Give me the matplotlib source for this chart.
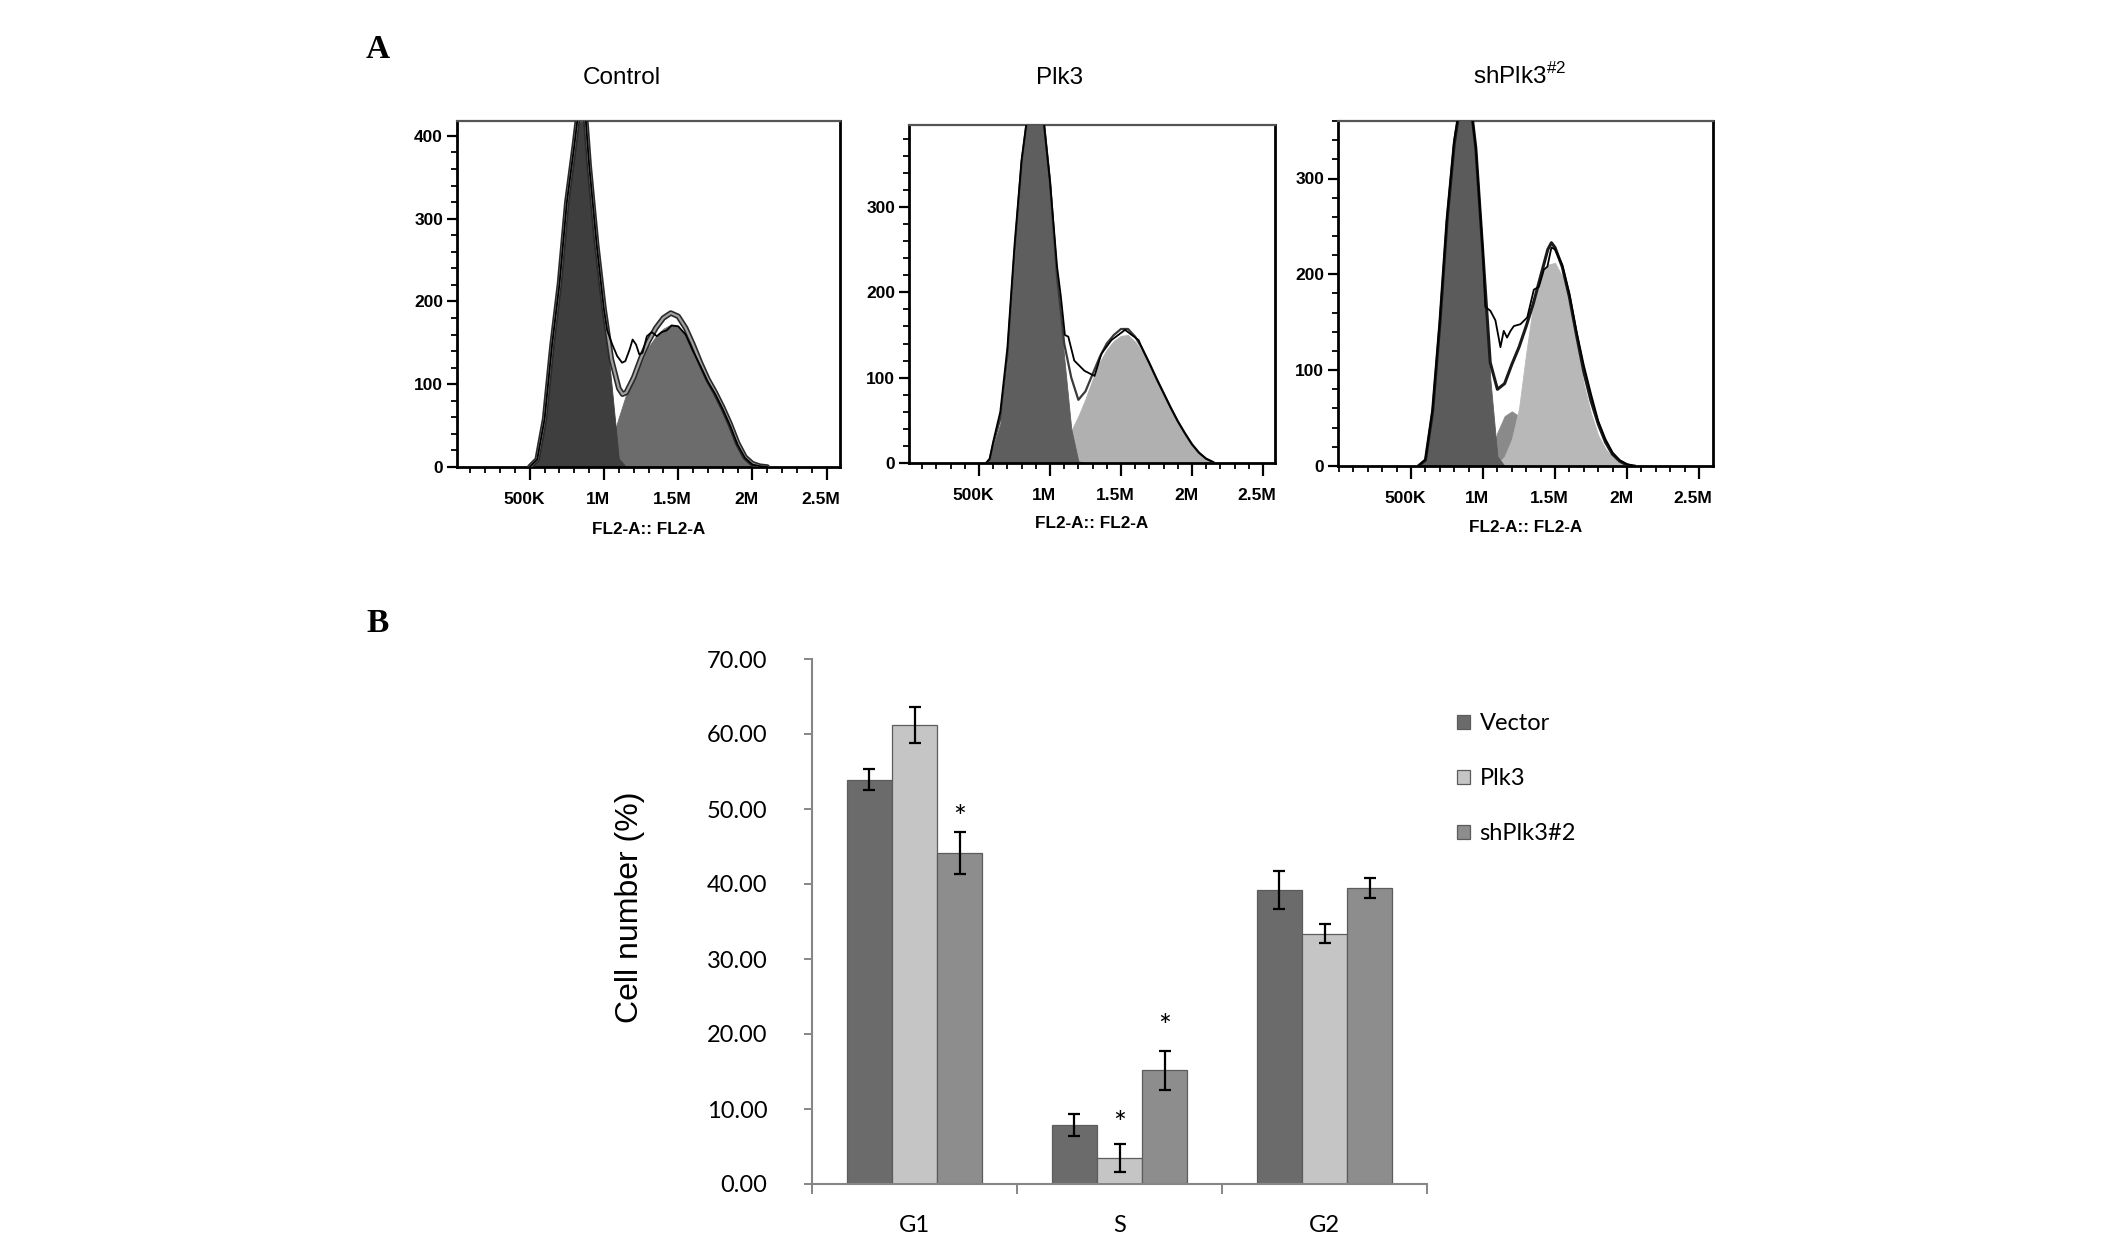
import matplotlib
matplotlib.use('Agg')
import matplotlib.pyplot as plt
from matplotlib.ticker import MultipleLocator, FixedLocator, NullFormatter
from matplotlib.transforms import ScaledTranslation, offset_copy
import numpy as np

plt.rcParams['mathtext.fontset'] = 'custom'
plt.rcParams['mathtext.rm'] = 'Liberation Sans'

# ---------------- DATA ----------------
# Panel A: flow cytometry histograms (x in thousands of FL2-A units, y = counts)
x_tick_vals = [500, 1000, 1500, 2000, 2500]
x_tick_labels = ['500K', '1M', '1.5M', '2M', '2.5M']
panel_titles = ['Control', 'Plk3', r'shPlk3$^{\mathregular{\#2}}$']
x_axis_label = 'FL2-A:: FL2-A'

# Control
c_g1_x = [500, 550, 600, 650, 700, 750, 800, 825, 850, 875, 900, 950, 1000, 1050, 1100, 1150]
c_g1_y = [0, 9, 58, 147, 221, 320, 388, 425, 445, 425, 365, 270, 190, 101, 10, 0]
c_g2_x = [950, 1000, 1050, 1100, 1150, 1200, 1250, 1300, 1350, 1400, 1450, 1500, 1550, 1600,
          1650, 1700, 1750, 1800, 1850, 1900, 1950, 2000, 2050]
c_g2_y = [0, 8, 30, 60, 88, 108, 125, 145, 158, 167, 172, 170, 160, 140, 122, 103, 88, 70, 50, 27, 11, 3, 0]
c_fit_x = [500, 550, 600, 650, 700, 750, 800, 825, 850, 875, 900, 950, 1000, 1050, 1100, 1125, 1150,
           1200, 1250, 1300, 1350, 1400, 1450, 1500, 1550, 1600, 1650, 1700, 1750, 1800, 1850, 1900,
           1950, 2000, 2050, 2100]
c_fit_y = [0, 9, 58, 147, 221, 320, 388, 425, 445, 425, 365, 270, 192, 130, 95, 88, 90, 108, 132, 152,
           168, 180, 186, 182, 168, 148, 126, 106, 90, 72, 52, 29, 12, 4, 1, 0]
c_raw_x = [500, 550, 600, 650, 700, 750, 800, 825, 850, 875, 900, 950, 1000, 1022, 1056, 1089, 1122,
           1144, 1173, 1193, 1216, 1238, 1260, 1289, 1322, 1356, 1389, 1422, 1456, 1500, 1550, 1600,
           1650, 1700, 1750, 1800, 1850, 1900, 1950, 2000, 2050, 2100]
c_raw_y = [0, 9, 58, 147, 221, 320, 388, 425, 445, 425, 365, 270, 190, 165, 148, 134, 126, 128, 142,
           154, 148, 136, 138, 158, 163, 158, 163, 165, 171, 170, 160, 140, 122, 103, 88, 70, 50, 27,
           11, 3, 1, 0]

# Plk3
p_g1_x = [550, 575, 600, 650, 700, 750, 800, 850, 900, 950, 1000, 1050, 1100, 1150, 1200, 1250]
p_g1_y = [0, 3, 19, 46, 116, 232, 348, 415, 435, 410, 330, 216, 124, 40, 2, 0]
p_g2_x = [1000, 1050, 1100, 1150, 1200, 1250, 1300, 1350, 1400, 1450, 1500, 1550, 1600, 1650, 1700,
          1750, 1800, 1850, 1900, 1950, 2000, 2050, 2100, 2150]
p_g2_y = [3, 10, 22, 38, 55, 75, 98, 118, 133, 143, 149, 150, 142, 130, 114, 97, 80, 63, 47, 33, 21, 11, 4, 0]
p_fit_x = [550, 575, 600, 650, 700, 750, 800, 850, 900, 950, 1000, 1050, 1100, 1150, 1200, 1250, 1300,
           1350, 1400, 1450, 1500, 1550, 1600, 1650, 1700, 1750, 1800, 1850, 1900, 1950, 2000, 2050,
           2100, 2150]
p_fit_y = [0, 4, 22, 52, 125, 245, 352, 418, 435, 410, 330, 218, 140, 100, 74, 84, 104, 124, 140, 150,
           157, 157, 148, 134, 117, 99, 82, 65, 49, 35, 22, 12, 5, 1]
p_raw_x = [550, 575, 600, 650, 700, 750, 800, 850, 900, 950, 1000, 1050, 1076, 1105, 1129, 1171, 1243,
           1314, 1362, 1433, 1481, 1529, 1576, 1624, 1650, 1700, 1750, 1800, 1850, 1900, 1950, 2000,
           2050, 2100, 2150]
p_raw_y = [0, 5, 25, 60, 135, 255, 355, 418, 435, 410, 330, 230, 196, 150, 148, 120, 108, 102, 128,
           144, 150, 156, 150, 144, 134, 117, 99, 82, 65, 49, 35, 22, 12, 5, 1]

# shPlk3#2
s_g1_x = [550, 600, 650, 700, 750, 800, 850, 900, 950, 1000, 1050, 1100, 1150]
s_g1_y = [0, 5, 55, 145, 255, 335, 385, 395, 330, 219, 92, 10, 0]
s_s_x = [1000, 1050, 1100, 1150, 1200, 1250, 1300, 1350, 1400, 1450, 1500]
s_s_y = [0, 10, 35, 52, 57, 52, 40, 25, 12, 4, 0]
s_g2_x = [1100, 1150, 1200, 1250, 1300, 1350, 1400, 1450, 1500, 1550, 1600, 1650, 1700, 1750, 1800,
          1850, 1900, 1950, 2000, 2050]
s_g2_y = [2, 10, 28, 60, 118, 170, 198, 210, 212, 198, 165, 125, 85, 55, 32, 18, 9, 4, 1, 0]
s_fit_x = [550, 600, 650, 700, 750, 800, 850, 900, 950, 1000, 1050, 1100, 1150, 1200, 1250, 1300, 1350,
           1400, 1450, 1475, 1500, 1550, 1600, 1650, 1700, 1750, 1800, 1850, 1900, 1950, 2000, 2050]
s_fit_y = [0, 6, 57, 148, 256, 336, 386, 396, 332, 220, 108, 80, 86, 106, 124, 146, 170, 198, 226, 233,
           228, 208, 176, 136, 98, 68, 44, 25, 12, 5, 1, 0]
s_raw_x = [550, 600, 650, 700, 750, 800, 850, 900, 950, 1000, 1016, 1051, 1086, 1121, 1144, 1167, 1191,
           1214, 1260, 1307, 1353, 1388, 1423, 1447, 1475, 1500, 1550, 1600, 1650, 1700, 1750, 1800,
           1850, 1900, 1950, 2000, 2050]
s_raw_y = [0, 7, 60, 152, 260, 340, 386, 396, 332, 222, 166, 162, 152, 124, 141, 134, 141, 146, 148,
           155, 184, 187, 205, 208, 228, 226, 210, 180, 140, 105, 75, 47, 28, 14, 6, 2, 0]

# Panel B: cell cycle distribution
phases = ['G1', 'S', 'G2']
groups = ['Vector', 'Plk3', 'shPlk3#2']
vector_vals = [53.9, 7.9, 39.2]
vector_err = [1.4, 1.5, 2.5]
plk3_vals = [61.2, 3.5, 33.4]
plk3_err = [2.4, 1.9, 1.3]
sh_vals = [44.2, 15.2, 39.5]
sh_err = [2.8, 2.6, 1.35]
star_group = [2, 1, 2]      # which bar carries an asterisk
star_phase = [0, 1, 1]
star_y = [50.3, 9.4, 22.4]

# ---------------- FIGURE ----------------
W, H, DPI = 2126, 1240, 100
fig = plt.figure(figsize=(W / DPI, H / DPI), dpi=DPI)
fig.patch.set_facecolor('white')


def rect(l, t, r, b):
    return [l / W, 1 - b / H, (r - l) / W, (b - t) / H]


SANS = 'Liberation Sans'


def flow_panel(box, xlim, ylim, fills, fit_x, fit_y, fit_tube, fit_color, fit_lw, raw_x, raw_y,
               title, title_xy, xlabel_y):
    ax = fig.add_axes(rect(*box))
    for fx, fy, col in fills:
        ax.fill_between(fx, fy, 0, color=col, lw=0.6, edgecolor=col)
    if fit_tube:
        ax.plot(fit_x, fit_y, color='#2a2a2a', lw=4.0, solid_capstyle='round', zorder=3)
        ax.plot(fit_x, fit_y, color='#a0a0a0', lw=1.6, solid_capstyle='round', zorder=3.1)
    else:
        ax.plot(fit_x, fit_y, color=fit_color, lw=fit_lw, zorder=3)
    ax.plot(raw_x, raw_y, color='black', lw=1.3, zorder=4)
    ax.set_xlim(*xlim)
    ax.set_ylim(*ylim)
    ax.xaxis.set_major_locator(FixedLocator(x_tick_vals))
    ax.set_xticklabels(x_tick_labels)
    ax.xaxis.set_minor_locator(MultipleLocator(100))
    ax.yaxis.set_major_locator(MultipleLocator(100))
    ax.yaxis.set_minor_locator(MultipleLocator(20))
    ax.tick_params(axis='x', which='major', direction='out', length=9, width=1.6, pad=9,
                   labelsize=12.5, colors='black')
    ax.tick_params(axis='x', which='minor', direction='out', length=4.5, width=1.3)
    ax.tick_params(axis='y', which='major', direction='out', length=7, width=1.6, pad=3,
                   labelsize=12.5)
    ax.tick_params(axis='y', which='minor', direction='out', length=4, width=1.3)
    for lab in ax.get_xticklabels() + ax.get_yticklabels():
        lab.set_fontweight('bold')
        lab.set_family(SANS)
    off = ScaledTranslation(-6 / DPI, 0, fig.dpi_scale_trans)
    for lab in ax.get_xticklabels():
        lab.set_transform(lab.get_transform() + off)
    for side in ['left', 'bottom', 'right']:
        ax.spines[side].set_linewidth(2.0)
        ax.spines[side].set_color('black')
    ax.spines['top'].set_linewidth(1.6)
    ax.spines['top'].set_color('#555555')
    cx = (box[0] + box[2]) / 2
    fig.text(cx / W, 1 - xlabel_y / H, x_axis_label, ha='center', va='center',
             fontsize=12.3, fontweight='bold', family=SANS)
    fig.text(title_xy[0] / W, 1 - title_xy[1] / H, title, ha='center', va='center',
             fontsize=17.5, family=SANS)
    return ax


flow_panel((457, 121, 840, 467), (10, 2590), (0, 418),
           [(c_g2_x, c_g2_y, '#6c6c6c'), (c_g1_x, c_g1_y, '#3e3e3e')],
           c_fit_x, c_fit_y, True, None, None, c_raw_x, c_raw_y,
           panel_titles[0], (622, 78), 529)
flow_panel((909, 125, 1275, 463), (7, 2585), (0, 396),
           [(p_g2_x, p_g2_y, '#b0b0b0'), (p_g1_x, p_g1_y, '#5e5e5e')],
           p_fit_x, p_fit_y, False, '#3a3a3a', 1.6, p_raw_x, p_raw_y,
           panel_titles[1], (1060, 78), 524)
flow_panel((1338, 121, 1713, 466), (-7, 2597), (0, 360),
           [(s_s_x, s_s_y, '#8a8a8a'), (s_g2_x, s_g2_y, '#b8b8b8'), (s_g1_x, s_g1_y, '#5b5b5b')],
           s_fit_x, s_fit_y, False, '#1a1a1a', 2.2, s_raw_x, s_raw_y,
           panel_titles[2], (1520, 76), 527)

fig.text(378 / W, 1 - 50 / H, 'A', ha='center', va='center', fontsize=24,
         fontweight='bold', family='Liberation Serif')
fig.text(378 / W, 1 - 624 / H, 'B', ha='center', va='center', fontsize=24,
         fontweight='bold', family='Liberation Serif')

# ---------------- PANEL B ----------------
BFONT = 'Lato'
axb = fig.add_axes(rect(812, 659, 1427, 1184))
xpos = np.arange(len(phases))
bw = 0.22
series = [(vector_vals, vector_err, '#6b6b6b'), (plk3_vals, plk3_err, '#c5c5c5'),
          (sh_vals, sh_err, '#8d8d8d')]
bars = []
for i, (vals, errs, col) in enumerate(series):
    b = axb.bar(xpos + (i - 1) * bw, vals, bw, yerr=errs, color=col, edgecolor='#5c5c5c',
                linewidth=0.9, label=groups[i],
                error_kw=dict(ecolor='black', elinewidth=1.6, capsize=4.5, capthick=1.6))
    bars.append(b)

star_tr = offset_copy(axb.transData, fig=fig, x=0, y=-11, units='dots')
for g, p, yv in zip(star_group, star_phase, star_y):
    axb.text(xpos[p] + (g - 1) * bw, yv, '*', ha='center', va='center', fontsize=22,
             family=BFONT, transform=star_tr)

axb.set_xlim(-0.5, 2.5)
axb.set_ylim(0, 70)
axb.yaxis.set_major_locator(MultipleLocator(10))
axb.yaxis.set_major_formatter(matplotlib.ticker.FormatStrFormatter('%.2f'))
axb.xaxis.set_major_locator(FixedLocator([-0.5, 0.5, 1.5, 2.5]))
axb.xaxis.set_major_formatter(NullFormatter())
axb.xaxis.set_minor_locator(FixedLocator(list(xpos)))
axb.set_xticklabels(phases, minor=True)
axb.tick_params(axis='x', which='major', direction='out', length=7, width=1.4, color='#868686')
axb.tick_params(axis='x', which='minor', length=0, pad=22, labelsize=17)
axb.tick_params(axis='y', which='major', direction='out', length=6, width=1.4, color='#868686',
                pad=26, labelsize=17)
for lab in axb.get_yticklabels() + axb.get_xticklabels(minor=True):
    lab.set_family(BFONT)
for side in ['top', 'right']:
    axb.spines[side].set_visible(False)
for side in ['left', 'bottom']:
    axb.spines[side].set_color('#868686')
    axb.spines[side].set_linewidth(1.5)

fig.text(630 / W, 1 - 907 / H, 'Cell number (%)', rotation=90, ha='center', va='center',
         fontsize=23, family=SANS)

leg = axb.legend(handles=bars, labels=groups, loc='upper left',
                 bbox_to_anchor=(1457 / W, 1 - 713 / H), bbox_transform=fig.transFigure,
                 frameon=False, prop={'family': BFONT, 'size': 17}, handlelength=0.55,
                 handleheight=0.55, handletextpad=0.4, labelspacing=1.45, borderpad=0,
                 borderaxespad=0)

fig.savefig('out.png', dpi=DPI, facecolor='white')
